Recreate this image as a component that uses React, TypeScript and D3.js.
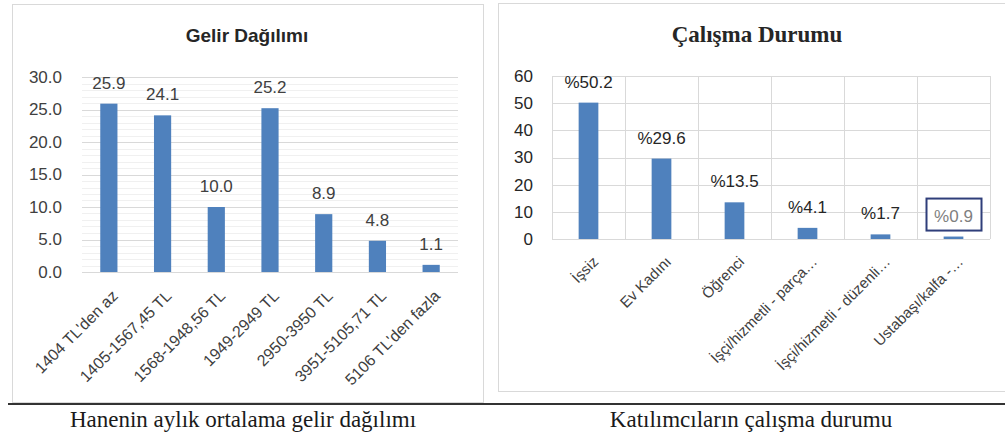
import * as d3 from 'd3';

const incomeCats = ["1404 TL'den az", '1405-1567,45 TL', '1568-1948,56 TL', '1949-2949 TL', '2950-3950 TL', '3951-5105,71 TL', "5106 TL'den fazla"];
const incomeVals = [25.9, 24.1, 10.0, 25.2, 8.9, 4.8, 1.1];
const incomeTicks = [0, 5, 10, 15, 20, 25, 30];

const workCats = ['İşsiz', 'Ev Kadını', 'Öğrenci', 'İşçi/hizmetli - parça…', 'İşçi/hizmetli - düzenli…', 'Ustabaşı/kalfa -…'];
const workVals = [50.2, 29.6, 13.5, 4.1, 1.7, 0.9];
const workTicks = [0, 10, 20, 30, 40, 50, 60];

const BLUE = '#4f81bd';
const SANS = '"Liberation Sans", Arial, sans-serif';
const SERIF = '"Liberation Serif", "Times New Roman", serif';

function IncomeChart() {
  const x = d3.scaleBand().domain(incomeCats).range([82, 458]);
  const y = d3.scaleLinear().domain([0, 30]).range([272, 77]);
  const minor = d3.range(0, 31, 1).filter(v => v % 5 !== 0);
  const bw = x.bandwidth() * 0.32;
  return (
    <g>
      <rect x={12.5} y={4.5} width={471} height={398} fill="#fff" stroke="#d9d9d9" />
      <text x={247} y={42} textAnchor="middle" fontFamily={SANS} fontWeight="bold" fontSize={19} fill="#262626">Gelir Dağılımı</text>
      {minor.map(v => (
        <line key={'m' + v} x1={82} x2={458} y1={Math.round(y(v)) + 0.5} y2={Math.round(y(v)) + 0.5} stroke="#f0f0f0" />
      ))}
      {incomeTicks.map(v => (
        <g key={v}>
          <line x1={82} x2={458} y1={Math.round(y(v)) + 0.5} y2={Math.round(y(v)) + 0.5} stroke="#d9d9d9" />
          <text x={62} y={y(v)} dy="0.35em" textAnchor="end" fontFamily={SANS} fontSize={17} fill="#404040">{v.toFixed(1)}</text>
        </g>
      ))}
      {incomeCats.map((c, i) => {
        const cx = x(c)! + x.bandwidth() / 2;
        const v = incomeVals[i];
        return (
          <g key={c}>
            <rect x={cx - bw / 2} y={y(v)} width={bw} height={y(0) - y(v)} fill={BLUE} />
            <text x={cx} y={y(v) - 15} textAnchor="middle" fontFamily={SANS} fontSize={17} fill="#404040">{v.toFixed(1)}</text>
            <text transform={`translate(${cx + 6},${293}) rotate(-45)`} dy="0.35em" textAnchor="end" fontFamily={SANS} fontSize={16} fill="#404040">{c}</text>
          </g>
        );
      })}
    </g>
  );
}

function WorkChart() {
  const x = d3.scaleBand().domain(workCats).range([552, 990]);
  const y = d3.scaleLinear().domain([0, 60]).range([239, 76]);
  const bw = x.bandwidth() * 0.27;
  const bounds = workCats.map(c => x(c)!).concat([990]);
  return (
    <g>
      <rect x={498.5} y={3.5} width={520} height={388} fill="#fff" stroke="#d9d9d9" />
      <text x={757} y={42} textAnchor="middle" fontFamily={SERIF} fontWeight="bold" fontSize={23} fill="#262626">Çalışma Durumu</text>
      {workTicks.map(v => (
        <g key={v}>
          <line x1={552} x2={990} y1={Math.round(y(v)) + 0.5} y2={Math.round(y(v)) + 0.5} stroke="#d9d9d9" />
          <text x={533} y={y(v)} dy="0.35em" textAnchor="end" fontFamily={SANS} fontSize={17} fill="#262626">{v}</text>
        </g>
      ))}
      {bounds.map((b, i) => (
        <line key={'v' + i} x1={Math.round(b) + 0.5} x2={Math.round(b) + 0.5} y1={y(60)} y2={y(0)} stroke="#d9d9d9" />
      ))}
      {workCats.map((c, i) => {
        const cx = x(c)! + x.bandwidth() / 2;
        const v = workVals[i];
        const last = i === workCats.length - 1;
        return (
          <g key={c}>
            <rect x={cx - bw / 2} y={y(v)} width={bw} height={y(0) - y(v)} fill={BLUE} />
            {last && (
              <rect x={cx - 27} y={y(v) - 38} width={55} height={32} fill="#fff" stroke="#2f3e7a" strokeWidth={2} />
            )}
            <text x={cx} y={y(v) - 15} textAnchor="middle" fontFamily={SANS} fontSize={17} fill={last ? '#7f7f7f' : '#262626'}>%{v.toFixed(1)}</text>
            <text transform={`translate(${cx + 7},${259}) rotate(-45)`} dy="0.35em" textAnchor="end" fontFamily={SANS} fontSize={15} fill="#404040">{c}</text>
          </g>
        );
      })}
    </g>
  );
}

export default function App() {
  return (
    <svg width={1005} height={437} style={{ position: 'absolute', left: 0, top: 0, background: '#fff' }}>
      <rect width={1005} height={437} fill="#fff" />
      <IncomeChart />
      <WorkChart />
      <line x1={8} x2={1005} y1={404} y2={404} stroke="#333" strokeWidth={2} />
      <text x={243} y={427} textAnchor="middle" fontFamily={SERIF} fontSize={23} fill="#1a1a1a">Hanenin aylık ortalama gelir dağılımı</text>
      <text x={751} y={427} textAnchor="middle" fontFamily={SERIF} fontSize={23} fill="#1a1a1a">Katılımcıların çalışma durumu</text>
    </svg>
  );
}
